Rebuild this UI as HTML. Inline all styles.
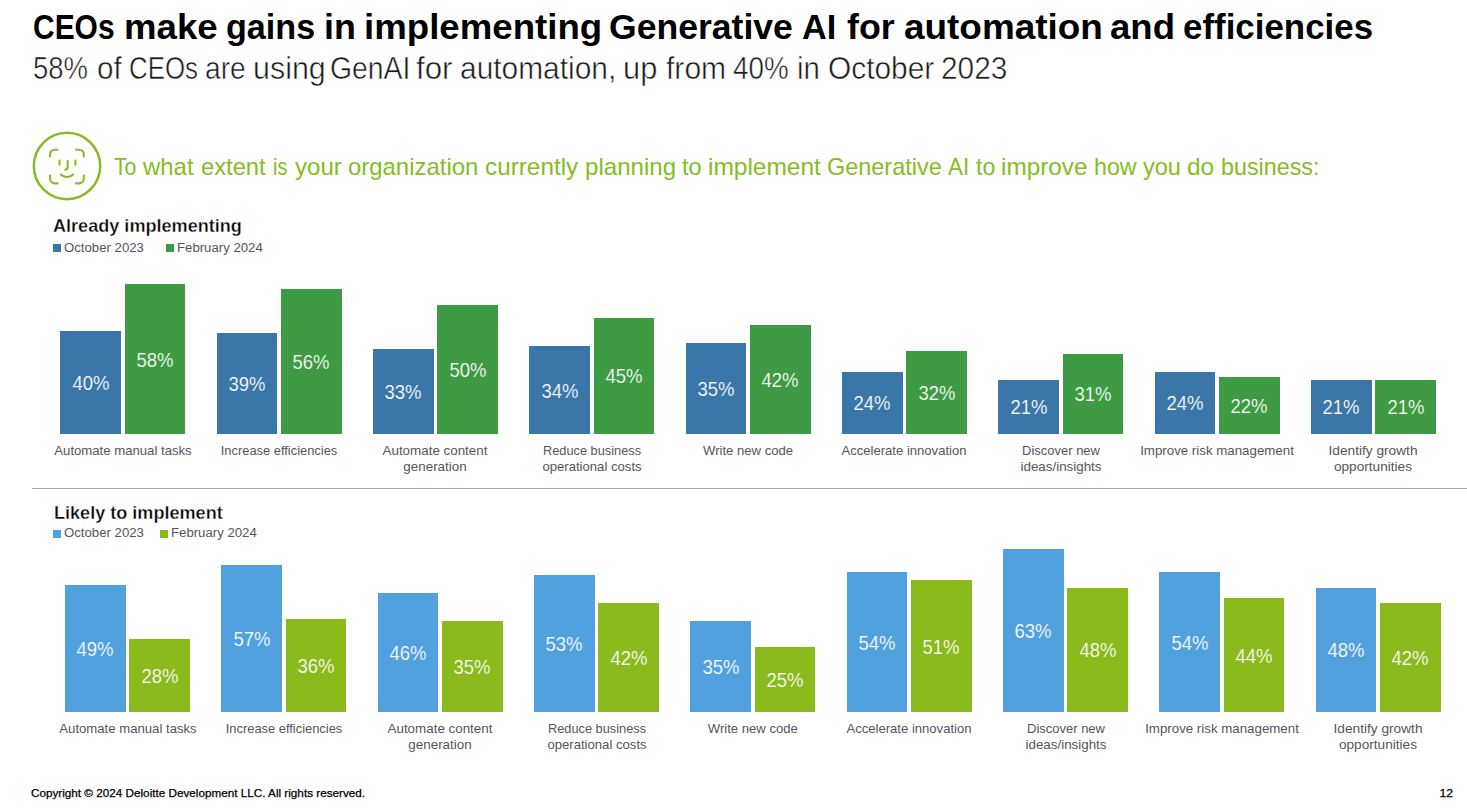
<!DOCTYPE html>
<html><head><meta charset="utf-8"><title>CEOs make gains in implementing Generative AI</title>
<style>
html,body{margin:0;padding:0;background:#fff;}
body{width:1467px;height:810px;position:relative;overflow:hidden;font-family:"Liberation Sans", sans-serif;}
.t{position:absolute;white-space:pre;line-height:1;}
.r{position:absolute;}
</style></head><body>
<div class="t" style="left:33.23px;top:9.71px;font-size:34.6px;font-weight:700;color:#000;transform:scaleX(0.8663);transform-origin:0 0">CEOs</div>
<div class="t" style="left:123.98px;top:9.71px;font-size:34.6px;font-weight:700;color:#000;transform:scaleX(1.0581);transform-origin:0 0">make</div>
<div class="t" style="left:226.31px;top:9.71px;font-size:34.6px;font-weight:700;color:#000;transform:scaleX(0.9875);transform-origin:0 0">gains</div>
<div class="t" style="left:323.93px;top:9.71px;font-size:34.6px;font-weight:700;color:#000;transform:scaleX(1.0370);transform-origin:0 0">in</div>
<div class="t" style="left:364.08px;top:9.71px;font-size:34.6px;font-weight:700;color:#000;transform:scaleX(1.0597);transform-origin:0 0">implementing</div>
<div class="t" style="left:609.37px;top:9.71px;font-size:34.6px;font-weight:700;color:#000;transform:scaleX(1.0288);transform-origin:0 0">Generative</div>
<div class="t" style="left:801.71px;top:9.71px;font-size:34.6px;font-weight:700;color:#000;transform:scaleX(0.9906);transform-origin:0 0">AI</div>
<div class="t" style="left:846.80px;top:9.71px;font-size:34.6px;font-weight:700;color:#000;transform:scaleX(1.0348);transform-origin:0 0">for</div>
<div class="t" style="left:903.53px;top:9.71px;font-size:34.6px;font-weight:700;color:#000;transform:scaleX(1.0674);transform-origin:0 0">automation</div>
<div class="t" style="left:1110.44px;top:9.71px;font-size:34.6px;font-weight:700;color:#000;transform:scaleX(1.0569);transform-origin:0 0">and</div>
<div class="t" style="left:1183.09px;top:9.71px;font-size:34.6px;font-weight:700;color:#000;transform:scaleX(1.0091);transform-origin:0 0">efficiencies</div>
<div class="t" style="left:33.23px;top:53.04px;font-size:31.5px;font-weight:400;color:#1a1a1a;transform:scaleX(0.8721);-webkit-text-stroke:0.5px #fff;transform-origin:0 0">58%</div>
<div class="t" style="left:96.56px;top:53.04px;font-size:31.5px;font-weight:400;color:#1a1a1a;transform:scaleX(0.9400);-webkit-text-stroke:0.5px #fff;transform-origin:0 0">of</div>
<div class="t" style="left:128.56px;top:53.04px;font-size:31.5px;font-weight:400;color:#1a1a1a;transform:scaleX(0.8210);-webkit-text-stroke:0.5px #fff;transform-origin:0 0">CEOs</div>
<div class="t" style="left:205.41px;top:53.04px;font-size:31.5px;font-weight:400;color:#1a1a1a;transform:scaleX(0.8930);-webkit-text-stroke:0.5px #fff;transform-origin:0 0">are</div>
<div class="t" style="left:252.97px;top:53.04px;font-size:31.5px;font-weight:400;color:#1a1a1a;transform:scaleX(0.9662);-webkit-text-stroke:0.5px #fff;transform-origin:0 0">using</div>
<div class="t" style="left:329.70px;top:53.04px;font-size:31.5px;font-weight:400;color:#1a1a1a;transform:scaleX(0.9000);-webkit-text-stroke:0.5px #fff;transform-origin:0 0">GenAI</div>
<div class="t" style="left:416.41px;top:53.04px;font-size:31.5px;font-weight:400;color:#1a1a1a;transform:scaleX(0.9914);-webkit-text-stroke:0.5px #fff;transform-origin:0 0">for</div>
<div class="t" style="left:460.35px;top:53.04px;font-size:31.5px;font-weight:400;color:#1a1a1a;transform:scaleX(0.9491);-webkit-text-stroke:0.5px #fff;transform-origin:0 0">automation,</div>
<div class="t" style="left:623.24px;top:53.04px;font-size:31.5px;font-weight:400;color:#1a1a1a;transform:scaleX(0.9781);-webkit-text-stroke:0.5px #fff;transform-origin:0 0">up</div>
<div class="t" style="left:665.74px;top:53.04px;font-size:31.5px;font-weight:400;color:#1a1a1a;transform:scaleX(0.9550);-webkit-text-stroke:0.5px #fff;transform-origin:0 0">from</div>
<div class="t" style="left:733.32px;top:53.04px;font-size:31.5px;font-weight:400;color:#1a1a1a;transform:scaleX(0.8820);-webkit-text-stroke:0.5px #fff;transform-origin:0 0">40%</div>
<div class="t" style="left:797.13px;top:53.04px;font-size:31.5px;font-weight:400;color:#1a1a1a;transform:scaleX(0.9333);-webkit-text-stroke:0.5px #fff;transform-origin:0 0">in</div>
<div class="t" style="left:827.50px;top:53.04px;font-size:31.5px;font-weight:400;color:#1a1a1a;transform:scaleX(0.9482);-webkit-text-stroke:0.5px #fff;transform-origin:0 0">October</div>
<div class="t" style="left:941.01px;top:53.04px;font-size:31.5px;font-weight:400;color:#1a1a1a;transform:scaleX(0.9463);-webkit-text-stroke:0.5px #fff;transform-origin:0 0">2023</div>
<svg class="r" style="left:0;top:0" width="140" height="220" viewBox="0 0 140 220">
<g fill="none" stroke="#86BC25" stroke-linecap="round">
<circle cx="67" cy="166" r="33.2" stroke-width="2.5"/>
<g stroke-width="2.1">
<path d="M50.1 156.4 V154.5 A4.8 4.8 0 0 1 54.9 149.7 H57.6"/>
<path d="M75.9 149.7 H79 A4.8 4.8 0 0 1 83.8 154.5 V156.4"/>
<path d="M50.1 175.6 V178.6 A4.8 4.8 0 0 0 54.9 183.4 H57.6"/>
<path d="M83.8 175.6 V178.6 A4.8 4.8 0 0 1 79 183.4 H75.9"/>
<path d="M59.5 160.6 V164.8"/>
<path d="M75.4 160.6 V164.8"/>
<path d="M67.7 161 V167 Q67.7 169.6 65.3 169.8"/>
<path d="M60.9 174.7 Q67 179.3 73.1 174.7"/>
</g></g></svg>
<div class="t" style="left:113.50px;top:156.19px;font-size:23.4px;font-weight:400;color:#86BC25;transform:scaleX(0.9083);transform-origin:0 0">To</div>
<div class="t" style="left:142.90px;top:156.19px;font-size:23.4px;font-weight:400;color:#86BC25;transform:scaleX(1.0240);transform-origin:0 0">what</div>
<div class="t" style="left:200.69px;top:156.19px;font-size:23.4px;font-weight:400;color:#86BC25;transform:scaleX(1.0143);transform-origin:0 0">extent</div>
<div class="t" style="left:273.35px;top:156.19px;font-size:23.4px;font-weight:400;color:#86BC25;transform:scaleX(0.8467);transform-origin:0 0">is</div>
<div class="t" style="left:294.70px;top:156.19px;font-size:23.4px;font-weight:400;color:#86BC25;transform:scaleX(1.0283);transform-origin:0 0">your</div>
<div class="t" style="left:348.38px;top:156.19px;font-size:23.4px;font-weight:400;color:#86BC25;transform:scaleX(1.0224);transform-origin:0 0">organization</div>
<div class="t" style="left:484.66px;top:156.19px;font-size:23.4px;font-weight:400;color:#86BC25;transform:scaleX(1.0393);transform-origin:0 0">currently</div>
<div class="t" style="left:585.17px;top:156.19px;font-size:23.4px;font-weight:400;color:#86BC25;transform:scaleX(1.0302);transform-origin:0 0">planning</div>
<div class="t" style="left:682.10px;top:156.19px;font-size:23.4px;font-weight:400;color:#86BC25;transform:scaleX(1.0053);transform-origin:0 0">to</div>
<div class="t" style="left:708.35px;top:156.19px;font-size:23.4px;font-weight:400;color:#86BC25;transform:scaleX(1.0458);transform-origin:0 0">implement</div>
<div class="t" style="left:827.10px;top:156.19px;font-size:23.4px;font-weight:400;color:#86BC25;transform:scaleX(1.0027);transform-origin:0 0">Generative</div>
<div class="t" style="left:947.90px;top:156.19px;font-size:23.4px;font-weight:400;color:#86BC25;transform:scaleX(0.9550);transform-origin:0 0">AI</div>
<div class="t" style="left:975.50px;top:156.19px;font-size:23.4px;font-weight:400;color:#86BC25;transform:scaleX(0.9895);transform-origin:0 0">to</div>
<div class="t" style="left:1001.26px;top:156.19px;font-size:23.4px;font-weight:400;color:#86BC25;transform:scaleX(1.0390);transform-origin:0 0">improve</div>
<div class="t" style="left:1094.31px;top:156.19px;font-size:23.4px;font-weight:400;color:#86BC25;transform:scaleX(0.9905);transform-origin:0 0">how</div>
<div class="t" style="left:1143.40px;top:156.19px;font-size:23.4px;font-weight:400;color:#86BC25;transform:scaleX(1.0027);transform-origin:0 0">you</div>
<div class="t" style="left:1187.45px;top:156.19px;font-size:23.4px;font-weight:400;color:#86BC25;transform:scaleX(1.0458);transform-origin:0 0">do</div>
<div class="t" style="left:1220.80px;top:156.19px;font-size:23.4px;font-weight:400;color:#86BC25;transform:scaleX(0.9958);transform-origin:0 0">business:</div>
<div class="t" style="left:53.00px;top:216.99px;font-size:18.2px;font-weight:700;color:#000;transform:scaleX(0.9942);-webkit-text-stroke:0.35px #fff;transform-origin:0 0">Already implementing</div>
<div class="r" style="left:53.20px;top:244.30px;width:7.50px;height:7.50px;background:#3A77A8"></div>
<div class="t" style="left:64.00px;top:240.70px;font-size:13.7px;font-weight:400;color:#53565A;transform:scaleX(0.9639);transform-origin:0 0">October 2023</div>
<div class="r" style="left:166.20px;top:244.30px;width:7.50px;height:7.50px;background:#3E9B43"></div>
<div class="t" style="left:177.00px;top:240.70px;font-size:13.7px;font-weight:400;color:#53565A;transform:scaleX(0.9636);transform-origin:0 0">February 2024</div>
<div class="r" style="left:60.30px;top:330.50px;width:60.60px;height:103.20px;background:#3A77A8"></div>
<div class="t" style="left:-109.40px;width:400px;text-align:center;top:372.77px;font-size:20px;font-weight:400;color:#fff;transform:scaleX(0.9250);-webkit-text-stroke:0.2px #3A77A8;transform-origin:50% 0">40%</div>
<div class="r" style="left:124.70px;top:284.06px;width:60.60px;height:149.64px;background:#3E9B43"></div>
<div class="t" style="left:-45.00px;width:400px;text-align:center;top:349.55px;font-size:20px;font-weight:400;color:#fff;transform:scaleX(0.9250);-webkit-text-stroke:0.2px #3E9B43;transform-origin:50% 0">58%</div>
<div class="t" style="left:-77.20px;width:400px;text-align:center;top:443.81px;font-size:13.1px;font-weight:400;color:#53565A;transform:scaleX(1.0036);transform-origin:50% 0">Automate manual tasks</div>
<div class="r" style="left:216.63px;top:333.08px;width:60.60px;height:100.62px;background:#3A77A8"></div>
<div class="t" style="left:46.93px;width:400px;text-align:center;top:374.06px;font-size:20px;font-weight:400;color:#fff;transform:scaleX(0.9250);-webkit-text-stroke:0.2px #3A77A8;transform-origin:50% 0">39%</div>
<div class="r" style="left:281.03px;top:289.22px;width:60.60px;height:144.48px;background:#3E9B43"></div>
<div class="t" style="left:111.33px;width:400px;text-align:center;top:352.13px;font-size:20px;font-weight:400;color:#fff;transform:scaleX(0.9250);-webkit-text-stroke:0.2px #3E9B43;transform-origin:50% 0">56%</div>
<div class="t" style="left:79.13px;width:400px;text-align:center;top:443.81px;font-size:13.1px;font-weight:400;color:#53565A;transform:scaleX(0.9838);transform-origin:50% 0">Increase efficiencies</div>
<div class="r" style="left:372.96px;top:348.56px;width:60.60px;height:85.14px;background:#3A77A8"></div>
<div class="t" style="left:203.26px;width:400px;text-align:center;top:381.80px;font-size:20px;font-weight:400;color:#fff;transform:scaleX(0.9250);-webkit-text-stroke:0.2px #3A77A8;transform-origin:50% 0">33%</div>
<div class="r" style="left:437.36px;top:304.70px;width:60.60px;height:129.00px;background:#3E9B43"></div>
<div class="t" style="left:267.66px;width:400px;text-align:center;top:359.87px;font-size:20px;font-weight:400;color:#fff;transform:scaleX(0.9250);-webkit-text-stroke:0.2px #3E9B43;transform-origin:50% 0">50%</div>
<div class="t" style="left:235.46px;width:400px;text-align:center;top:443.81px;font-size:13.1px;font-weight:400;color:#53565A;transform:scaleX(1.0223);transform-origin:50% 0">Automate content</div>
<div class="t" style="left:235.46px;width:400px;text-align:center;top:460.01px;font-size:13.1px;font-weight:400;color:#53565A;transform:scaleX(1.0230);transform-origin:50% 0">generation</div>
<div class="r" style="left:529.29px;top:345.98px;width:60.60px;height:87.72px;background:#3A77A8"></div>
<div class="t" style="left:359.59px;width:400px;text-align:center;top:380.51px;font-size:20px;font-weight:400;color:#fff;transform:scaleX(0.9250);-webkit-text-stroke:0.2px #3A77A8;transform-origin:50% 0">34%</div>
<div class="r" style="left:593.69px;top:317.60px;width:60.60px;height:116.10px;background:#3E9B43"></div>
<div class="t" style="left:423.99px;width:400px;text-align:center;top:366.32px;font-size:20px;font-weight:400;color:#fff;transform:scaleX(0.9250);-webkit-text-stroke:0.2px #3E9B43;transform-origin:50% 0">45%</div>
<div class="t" style="left:391.79px;width:400px;text-align:center;top:443.81px;font-size:13.1px;font-weight:400;color:#53565A;transform:scaleX(0.9768);transform-origin:50% 0">Reduce business</div>
<div class="t" style="left:391.79px;width:400px;text-align:center;top:460.01px;font-size:13.1px;font-weight:400;color:#53565A;transform:scaleX(1.0020);transform-origin:50% 0">operational costs</div>
<div class="r" style="left:685.62px;top:343.40px;width:60.60px;height:90.30px;background:#3A77A8"></div>
<div class="t" style="left:515.92px;width:400px;text-align:center;top:379.22px;font-size:20px;font-weight:400;color:#fff;transform:scaleX(0.9250);-webkit-text-stroke:0.2px #3A77A8;transform-origin:50% 0">35%</div>
<div class="r" style="left:750.02px;top:325.34px;width:60.60px;height:108.36px;background:#3E9B43"></div>
<div class="t" style="left:580.32px;width:400px;text-align:center;top:370.19px;font-size:20px;font-weight:400;color:#fff;transform:scaleX(0.9250);-webkit-text-stroke:0.2px #3E9B43;transform-origin:50% 0">42%</div>
<div class="t" style="left:548.12px;width:400px;text-align:center;top:443.81px;font-size:13.1px;font-weight:400;color:#53565A;transform:scaleX(1.0000);transform-origin:50% 0">Write new code</div>
<div class="r" style="left:841.95px;top:371.78px;width:60.60px;height:61.92px;background:#3A77A8"></div>
<div class="t" style="left:672.25px;width:400px;text-align:center;top:393.41px;font-size:20px;font-weight:400;color:#fff;transform:scaleX(0.9250);-webkit-text-stroke:0.2px #3A77A8;transform-origin:50% 0">24%</div>
<div class="r" style="left:906.35px;top:351.14px;width:60.60px;height:82.56px;background:#3E9B43"></div>
<div class="t" style="left:736.65px;width:400px;text-align:center;top:383.09px;font-size:20px;font-weight:400;color:#fff;transform:scaleX(0.9250);-webkit-text-stroke:0.2px #3E9B43;transform-origin:50% 0">32%</div>
<div class="t" style="left:704.45px;width:400px;text-align:center;top:443.81px;font-size:13.1px;font-weight:400;color:#53565A;transform:scaleX(0.9992);transform-origin:50% 0">Accelerate innovation</div>
<div class="r" style="left:998.28px;top:379.52px;width:60.60px;height:54.18px;background:#3A77A8"></div>
<div class="t" style="left:828.58px;width:400px;text-align:center;top:397.28px;font-size:20px;font-weight:400;color:#fff;transform:scaleX(0.9250);-webkit-text-stroke:0.2px #3A77A8;transform-origin:50% 0">21%</div>
<div class="r" style="left:1062.68px;top:353.72px;width:60.60px;height:79.98px;background:#3E9B43"></div>
<div class="t" style="left:892.98px;width:400px;text-align:center;top:384.38px;font-size:20px;font-weight:400;color:#fff;transform:scaleX(0.9250);-webkit-text-stroke:0.2px #3E9B43;transform-origin:50% 0">31%</div>
<div class="t" style="left:860.78px;width:400px;text-align:center;top:443.81px;font-size:13.1px;font-weight:400;color:#53565A;transform:scaleX(0.9910);transform-origin:50% 0">Discover new</div>
<div class="t" style="left:860.78px;width:400px;text-align:center;top:460.01px;font-size:13.1px;font-weight:400;color:#53565A;transform:scaleX(1.0218);transform-origin:50% 0">ideas/insights</div>
<div class="r" style="left:1154.61px;top:371.78px;width:60.60px;height:61.92px;background:#3A77A8"></div>
<div class="t" style="left:984.91px;width:400px;text-align:center;top:393.41px;font-size:20px;font-weight:400;color:#fff;transform:scaleX(0.9250);-webkit-text-stroke:0.2px #3A77A8;transform-origin:50% 0">24%</div>
<div class="r" style="left:1219.01px;top:376.94px;width:60.60px;height:56.76px;background:#3E9B43"></div>
<div class="t" style="left:1049.31px;width:400px;text-align:center;top:395.99px;font-size:20px;font-weight:400;color:#fff;transform:scaleX(0.9250);-webkit-text-stroke:0.2px #3E9B43;transform-origin:50% 0">22%</div>
<div class="t" style="left:1017.11px;width:400px;text-align:center;top:443.81px;font-size:13.1px;font-weight:400;color:#53565A;transform:scaleX(1.0152);transform-origin:50% 0">Improve risk management</div>
<div class="r" style="left:1310.94px;top:379.52px;width:60.60px;height:54.18px;background:#3A77A8"></div>
<div class="t" style="left:1141.24px;width:400px;text-align:center;top:397.28px;font-size:20px;font-weight:400;color:#fff;transform:scaleX(0.9250);-webkit-text-stroke:0.2px #3A77A8;transform-origin:50% 0">21%</div>
<div class="r" style="left:1375.34px;top:379.52px;width:60.60px;height:54.18px;background:#3E9B43"></div>
<div class="t" style="left:1205.64px;width:400px;text-align:center;top:397.28px;font-size:20px;font-weight:400;color:#fff;transform:scaleX(0.9250);-webkit-text-stroke:0.2px #3E9B43;transform-origin:50% 0">21%</div>
<div class="t" style="left:1173.44px;width:400px;text-align:center;top:443.81px;font-size:13.1px;font-weight:400;color:#53565A;transform:scaleX(1.0452);transform-origin:50% 0">Identify growth</div>
<div class="t" style="left:1173.44px;width:400px;text-align:center;top:460.01px;font-size:13.1px;font-weight:400;color:#53565A;transform:scaleX(1.0413);transform-origin:50% 0">opportunities</div>
<div class="r" style="left:32.30px;top:487.70px;width:1434.70px;height:1.40px;background:#A7A8AA"></div>
<div class="t" style="left:53.50px;top:503.79px;font-size:18.2px;font-weight:700;color:#000;transform:scaleX(0.9935);-webkit-text-stroke:0.35px #fff;transform-origin:0 0">Likely to implement</div>
<div class="r" style="left:53.20px;top:530.20px;width:7.50px;height:7.50px;background:#52A1DF"></div>
<div class="t" style="left:64.00px;top:526.10px;font-size:13.7px;font-weight:400;color:#53565A;transform:scaleX(0.9639);transform-origin:0 0">October 2023</div>
<div class="r" style="left:160.20px;top:530.20px;width:7.50px;height:7.50px;background:#8BBA1D"></div>
<div class="t" style="left:171.00px;top:526.10px;font-size:13.7px;font-weight:400;color:#53565A;transform:scaleX(0.9636);transform-origin:0 0">February 2024</div>
<div class="r" style="left:65.05px;top:585.28px;width:60.60px;height:126.42px;background:#52A1DF"></div>
<div class="t" style="left:-104.65px;width:400px;text-align:center;top:639.16px;font-size:20px;font-weight:400;color:#fff;transform:scaleX(0.9250);-webkit-text-stroke:0.2px #52A1DF;transform-origin:50% 0">49%</div>
<div class="r" style="left:129.45px;top:639.46px;width:60.60px;height:72.24px;background:#8BBA1D"></div>
<div class="t" style="left:-40.25px;width:400px;text-align:center;top:666.25px;font-size:20px;font-weight:400;color:#fff;transform:scaleX(0.9250);-webkit-text-stroke:0.2px #8BBA1D;transform-origin:50% 0">28%</div>
<div class="t" style="left:-72.45px;width:400px;text-align:center;top:721.81px;font-size:13.1px;font-weight:400;color:#53565A;transform:scaleX(1.0036);transform-origin:50% 0">Automate manual tasks</div>
<div class="r" style="left:221.38px;top:564.64px;width:60.60px;height:147.06px;background:#52A1DF"></div>
<div class="t" style="left:51.68px;width:400px;text-align:center;top:628.84px;font-size:20px;font-weight:400;color:#fff;transform:scaleX(0.9250);-webkit-text-stroke:0.2px #52A1DF;transform-origin:50% 0">57%</div>
<div class="r" style="left:285.78px;top:618.82px;width:60.60px;height:92.88px;background:#8BBA1D"></div>
<div class="t" style="left:116.08px;width:400px;text-align:center;top:655.93px;font-size:20px;font-weight:400;color:#fff;transform:scaleX(0.9250);-webkit-text-stroke:0.2px #8BBA1D;transform-origin:50% 0">36%</div>
<div class="t" style="left:83.88px;width:400px;text-align:center;top:721.81px;font-size:13.1px;font-weight:400;color:#53565A;transform:scaleX(0.9838);transform-origin:50% 0">Increase efficiencies</div>
<div class="r" style="left:377.71px;top:593.02px;width:60.60px;height:118.68px;background:#52A1DF"></div>
<div class="t" style="left:208.01px;width:400px;text-align:center;top:643.03px;font-size:20px;font-weight:400;color:#fff;transform:scaleX(0.9250);-webkit-text-stroke:0.2px #52A1DF;transform-origin:50% 0">46%</div>
<div class="r" style="left:442.11px;top:621.40px;width:60.60px;height:90.30px;background:#8BBA1D"></div>
<div class="t" style="left:272.41px;width:400px;text-align:center;top:657.22px;font-size:20px;font-weight:400;color:#fff;transform:scaleX(0.9250);-webkit-text-stroke:0.2px #8BBA1D;transform-origin:50% 0">35%</div>
<div class="t" style="left:240.21px;width:400px;text-align:center;top:721.81px;font-size:13.1px;font-weight:400;color:#53565A;transform:scaleX(1.0223);transform-origin:50% 0">Automate content</div>
<div class="t" style="left:240.21px;width:400px;text-align:center;top:738.01px;font-size:13.1px;font-weight:400;color:#53565A;transform:scaleX(1.0230);transform-origin:50% 0">generation</div>
<div class="r" style="left:534.04px;top:574.96px;width:60.60px;height:136.74px;background:#52A1DF"></div>
<div class="t" style="left:364.34px;width:400px;text-align:center;top:634.00px;font-size:20px;font-weight:400;color:#fff;transform:scaleX(0.9250);-webkit-text-stroke:0.2px #52A1DF;transform-origin:50% 0">53%</div>
<div class="r" style="left:598.44px;top:603.34px;width:60.60px;height:108.36px;background:#8BBA1D"></div>
<div class="t" style="left:428.74px;width:400px;text-align:center;top:648.19px;font-size:20px;font-weight:400;color:#fff;transform:scaleX(0.9250);-webkit-text-stroke:0.2px #8BBA1D;transform-origin:50% 0">42%</div>
<div class="t" style="left:396.54px;width:400px;text-align:center;top:721.81px;font-size:13.1px;font-weight:400;color:#53565A;transform:scaleX(0.9768);transform-origin:50% 0">Reduce business</div>
<div class="t" style="left:396.54px;width:400px;text-align:center;top:738.01px;font-size:13.1px;font-weight:400;color:#53565A;transform:scaleX(1.0020);transform-origin:50% 0">operational costs</div>
<div class="r" style="left:690.37px;top:621.40px;width:60.60px;height:90.30px;background:#52A1DF"></div>
<div class="t" style="left:520.67px;width:400px;text-align:center;top:657.22px;font-size:20px;font-weight:400;color:#fff;transform:scaleX(0.9250);-webkit-text-stroke:0.2px #52A1DF;transform-origin:50% 0">35%</div>
<div class="r" style="left:754.77px;top:647.20px;width:60.60px;height:64.50px;background:#8BBA1D"></div>
<div class="t" style="left:585.07px;width:400px;text-align:center;top:670.12px;font-size:20px;font-weight:400;color:#fff;transform:scaleX(0.9250);-webkit-text-stroke:0.2px #8BBA1D;transform-origin:50% 0">25%</div>
<div class="t" style="left:552.87px;width:400px;text-align:center;top:721.81px;font-size:13.1px;font-weight:400;color:#53565A;transform:scaleX(1.0000);transform-origin:50% 0">Write new code</div>
<div class="r" style="left:846.70px;top:572.38px;width:60.60px;height:139.32px;background:#52A1DF"></div>
<div class="t" style="left:677.00px;width:400px;text-align:center;top:632.71px;font-size:20px;font-weight:400;color:#fff;transform:scaleX(0.9250);-webkit-text-stroke:0.2px #52A1DF;transform-origin:50% 0">54%</div>
<div class="r" style="left:911.10px;top:580.12px;width:60.60px;height:131.58px;background:#8BBA1D"></div>
<div class="t" style="left:741.40px;width:400px;text-align:center;top:636.58px;font-size:20px;font-weight:400;color:#fff;transform:scaleX(0.9250);-webkit-text-stroke:0.2px #8BBA1D;transform-origin:50% 0">51%</div>
<div class="t" style="left:709.20px;width:400px;text-align:center;top:721.81px;font-size:13.1px;font-weight:400;color:#53565A;transform:scaleX(0.9992);transform-origin:50% 0">Accelerate innovation</div>
<div class="r" style="left:1003.03px;top:549.16px;width:60.60px;height:162.54px;background:#52A1DF"></div>
<div class="t" style="left:833.33px;width:400px;text-align:center;top:621.10px;font-size:20px;font-weight:400;color:#fff;transform:scaleX(0.9250);-webkit-text-stroke:0.2px #52A1DF;transform-origin:50% 0">63%</div>
<div class="r" style="left:1067.43px;top:587.86px;width:60.60px;height:123.84px;background:#8BBA1D"></div>
<div class="t" style="left:897.73px;width:400px;text-align:center;top:640.45px;font-size:20px;font-weight:400;color:#fff;transform:scaleX(0.9250);-webkit-text-stroke:0.2px #8BBA1D;transform-origin:50% 0">48%</div>
<div class="t" style="left:865.53px;width:400px;text-align:center;top:721.81px;font-size:13.1px;font-weight:400;color:#53565A;transform:scaleX(0.9910);transform-origin:50% 0">Discover new</div>
<div class="t" style="left:865.53px;width:400px;text-align:center;top:738.01px;font-size:13.1px;font-weight:400;color:#53565A;transform:scaleX(1.0218);transform-origin:50% 0">ideas/insights</div>
<div class="r" style="left:1159.36px;top:572.38px;width:60.60px;height:139.32px;background:#52A1DF"></div>
<div class="t" style="left:989.66px;width:400px;text-align:center;top:632.71px;font-size:20px;font-weight:400;color:#fff;transform:scaleX(0.9250);-webkit-text-stroke:0.2px #52A1DF;transform-origin:50% 0">54%</div>
<div class="r" style="left:1223.76px;top:598.18px;width:60.60px;height:113.52px;background:#8BBA1D"></div>
<div class="t" style="left:1054.06px;width:400px;text-align:center;top:645.61px;font-size:20px;font-weight:400;color:#fff;transform:scaleX(0.9250);-webkit-text-stroke:0.2px #8BBA1D;transform-origin:50% 0">44%</div>
<div class="t" style="left:1021.86px;width:400px;text-align:center;top:721.81px;font-size:13.1px;font-weight:400;color:#53565A;transform:scaleX(1.0152);transform-origin:50% 0">Improve risk management</div>
<div class="r" style="left:1315.69px;top:587.86px;width:60.60px;height:123.84px;background:#52A1DF"></div>
<div class="t" style="left:1145.99px;width:400px;text-align:center;top:640.45px;font-size:20px;font-weight:400;color:#fff;transform:scaleX(0.9250);-webkit-text-stroke:0.2px #52A1DF;transform-origin:50% 0">48%</div>
<div class="r" style="left:1380.09px;top:603.34px;width:60.60px;height:108.36px;background:#8BBA1D"></div>
<div class="t" style="left:1210.39px;width:400px;text-align:center;top:648.19px;font-size:20px;font-weight:400;color:#fff;transform:scaleX(0.9250);-webkit-text-stroke:0.2px #8BBA1D;transform-origin:50% 0">42%</div>
<div class="t" style="left:1178.19px;width:400px;text-align:center;top:721.81px;font-size:13.1px;font-weight:400;color:#53565A;transform:scaleX(1.0452);transform-origin:50% 0">Identify growth</div>
<div class="t" style="left:1178.19px;width:400px;text-align:center;top:738.01px;font-size:13.1px;font-weight:400;color:#53565A;transform:scaleX(1.0413);transform-origin:50% 0">opportunities</div>
<div class="t" style="left:31.00px;top:787.99px;font-size:11px;font-weight:400;color:#000;transform:scaleX(1.0645);-webkit-text-stroke:0.25px #000;transform-origin:0 0">Copyright © 2024 Deloitte Development LLC. All rights reserved.</div>
<div class="t" style="left:1053.00px;width:400px;text-align:right;top:787.99px;font-size:11px;font-weight:400;color:#000;transform:scaleX(1.1000);-webkit-text-stroke:0.25px #000;transform-origin:100% 0">12</div>
</body></html>
